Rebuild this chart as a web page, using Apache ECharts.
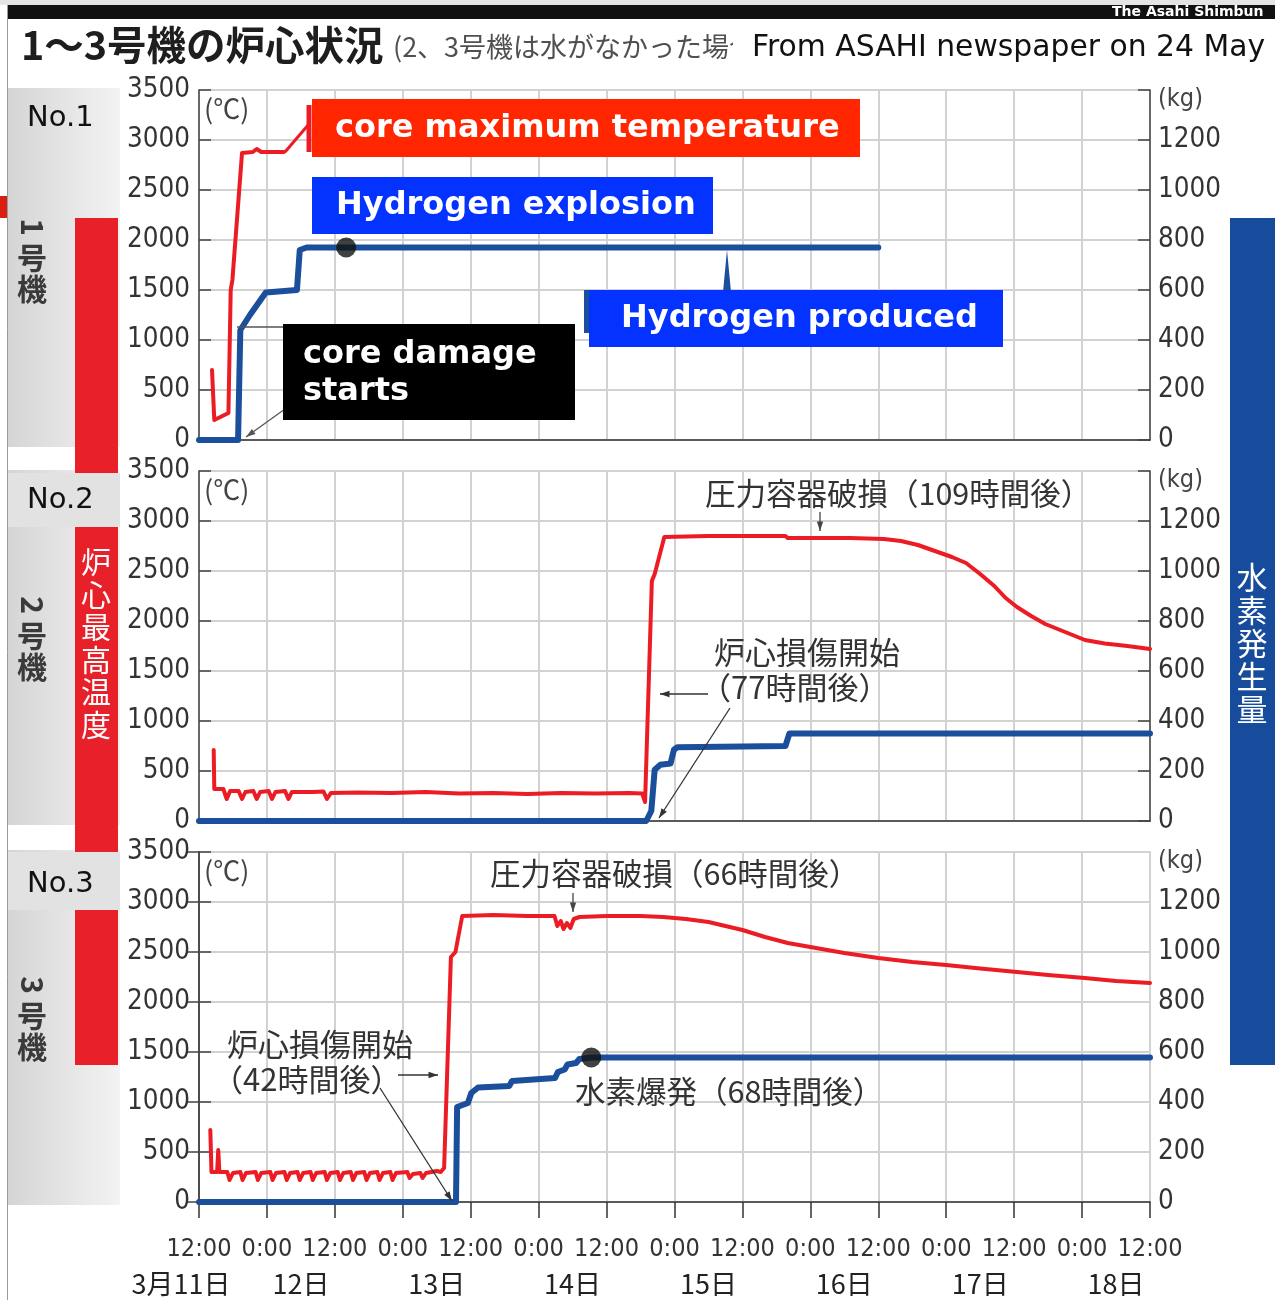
<!DOCTYPE html>
<html>
<head>
<meta charset="utf-8">
<script src="https://cdn.jsdelivr.net/npm/echarts@6/dist/echarts.min.js"></script>
<style>
html,body{margin:0;padding:0;background:#fff;}
#chart{width:1275px;height:1300px;}
</style>
</head>
<body>
<div id="chart"></div>
<script>
// x values are hours counted from 11 March 12:00
const timeTickLabels = ['12:00','0:00','12:00','0:00','12:00','0:00','12:00','0:00','12:00','0:00','12:00','0:00','12:00','0:00','12:00'];
const dayLabels = ['3月11日','12日','13日','14日','15日','16日','17日','18日'];
const dayLabelHours = [0, 18, 42, 66, 90, 114, 138, 162];

// Unit 1: core maximum temperature (°C) and hydrogen produced (kg)
const unit1Temp = [[2.3,700],[2.7,200],[5.2,270],[5.6,1500],[5.9,1600],[6.2,1620],[7.6,2870],[9.5,2880],[10.2,2910],[11,2880],[15.0,2880]];
const unit1H2 = [[0,0],[6.9,0],[7.3,440],[9.0,500],[11.8,590],[17.3,600],[17.8,760],[19,770],[120,770]];
const unit1Explosion = [[26,770]];

// Unit 2
const unit2Temp = [[2.6,710],[2.7,320],[4.3,320],[4.9,220],[5.5,300],[7.0,300],[7.6,220],[8.2,290],[9.6,300],[10.2,220],[10.8,290],[12.3,300],[12.9,220],[13.5,290],[15.2,300],[15.8,220],[16.4,290],[20,290],[22.0,295],[22.6,220],[23.3,280],[28,285],[34,280],[40,290],[46,275],[52,280],[58,270],[64,280],[70,275],[76,280],[78.3,275],[78.8,190],[80.0,2400],[80.5,2470],[82.2,2840],[90,2850],[103.6,2850],[104,2830],[115,2830],[121,2820],[124,2800],[127,2760],[130,2700],[133,2640],[135.5,2580],[138,2470],[140.5,2350],[142.5,2230],[144.5,2140],[147,2050],[149.5,1970],[153,1890],[156.5,1810],[160,1775],[164,1750],[168,1720]];
const unit2H2 = [[0,0],[79.0,0],[79.9,40],[80.5,205],[81.5,225],[83.3,230],[83.9,285],[84.5,295],[103.6,300],[104.3,350],[168,350]];

// Unit 3
const unit3Temp = [[2.0,720],[2.2,300],[3.2,300],[3.4,520],[3.6,300],[5.0,300],[5.4,220],[6.0,290],[7.3,300],[7.7,220],[8.3,290],[10.0,300],[10.4,220],[11.0,290],[12.6,300],[13.0,220],[13.6,290],[15.1,300],[15.5,220],[16.1,290],[17.4,300],[17.8,220],[18.4,290],[19.7,300],[20.1,220],[20.7,290],[22.2,300],[22.6,220],[23.2,290],[24.5,300],[24.9,220],[25.5,290],[26.8,300],[27.2,220],[27.8,290],[29.2,300],[29.6,220],[30.2,290],[31.5,300],[31.9,220],[32.5,290],[33.8,300],[34.2,220],[34.8,290],[36.8,300],[37.2,240],[37.8,280],[39.1,290],[39.5,240],[40.1,290],[42.0,310],[42.7,300],[43.3,340],[44.5,2450],[45.3,2500],[46.5,2860],[52,2870],[58,2860],[62.8,2860],[63.3,2760],[63.9,2810],[64.4,2730],[65.0,2790],[65.6,2740],[66.2,2830],[67.2,2850],[72,2860],[78,2860],[82,2850],[86,2830],[90,2800],[93,2760],[96,2720],[100,2650],[104,2590],[108,2550],[114,2490],[120,2440],[126,2400],[132,2370],[138,2335],[144.5,2300],[150,2270],[156.5,2240],[162,2210],[168,2190]];
const unit3H2 = [[0,0],[45.4,0],[45.6,380],[47.5,396],[48.1,436],[49.3,458],[54.8,464],[55.3,484],[62.9,496],[63.4,520],[64.6,530],[65.1,550],[66.6,556],[67.2,572],[69.3,578],[168,578]];
const unit3Explosion = [[69.3,578]];

// ---- pick the narrowest available face for the numeric axis labels ----
function measure(font, s) {
  const ctx = document.createElement('canvas').getContext('2d');
  ctx.font = '10px serif';
  ctx.font = font;
  if (ctx.font === '10px serif') return null;
  return ctx.measureText(s).width;
}
const probe = '12:00 3500 1200';
let NUM = {family: "'Liberation Sans', sans-serif", style: ''};
const narrowW = measure("40px 'Liberation Sans Narrow', monospace", probe);
const monoW = measure('40px monospace', probe);
const condW = measure("condensed 40px 'DejaVu Sans'", probe);
const plainW = measure("40px 'DejaVu Sans'", probe);
if (narrowW !== null && monoW !== null && Math.abs(narrowW - monoW) > 0.5) {
  NUM = {family: "'Liberation Sans Narrow'", style: ''};
} else if (condW !== null && plainW !== null && condW < 0.95 * plainW) {
  NUM = {family: "'DejaVu Sans'", style: 'condensed'};
}
function sizeFor(text, targetW) {
  const w = measure((NUM.style ? NUM.style + ' ' : '') + '100px ' + NUM.family, text);
  return w ? 100 * targetW / w : 30;
}
const YLABEL_SIZE = Math.min(36, sizeFor('3500', 63));
const XLABEL_SIZE = Math.min(34, sizeFor('12:00', 65));
const KG_SIZE = Math.min(30, sizeFor('(kg)', 45));

const JP = "'Noto Sans CJK JP',sans-serif";
const VERDANA = "'DejaVu Sans',sans-serif";
const RED = '#ec1c24';
const BLUE = '#1b4f9c';
const GRID_LINE = '#d2d2d2';
const AXIS = '#444';

const panelTops = [90, 471, 852];
const PANEL_H = 350;

const chart = echarts.init(document.getElementById('chart'), null, {renderer: 'canvas'});

const numText = (size, color) => ({fontFamily: NUM.family, fontStyle: NUM.style || 'normal', fontSize: size, color});

const grids = panelTops.map(t => ({
  left: 199, right: 125, top: t, height: PANEL_H,
  show: true, borderColor: '#c4c4c4', borderWidth: 1.5,
  outerBoundsMode: 'none', containLabel: false
}));

function timeAxis(gridIndex, withLabels) {
  return {
    type: 'value', gridIndex, min: 0, max: 168, interval: 12,
    axisLine: {show: true, onZero: false, lineStyle: {color: '#333', width: 1.5}},
    axisTick: {show: withLabels, length: 16, lineStyle: {color: '#333', width: 1.5}},
    axisLabel: Object.assign({
      show: withLabels, margin: 35, showMinLabel: true, showMaxLabel: true,
      formatter: v => timeTickLabels[Math.round(v / 12)]
    }, numText(XLABEL_SIZE, '#333')),
    splitLine: {show: true, lineStyle: {color: GRID_LINE, width: 2}}
  };
}

const xAxes = [timeAxis(0, false), timeAxis(1, false), timeAxis(2, true), {
  type: 'value', gridIndex: 2, min: 0, max: 168, position: 'bottom',
  axisLine: {show: false}, axisTick: {show: false}, splitLine: {show: false},
  axisLabel: {
    show: true, margin: 68, customValues: dayLabelHours,
    formatter: v => {
      const i = dayLabelHours.indexOf(v);
      return i === 0 ? '{first|' + dayLabels[i] + '}' : '{d|' + dayLabels[i] + '}';
    },
    rich: {
      first: {fontFamily: JP, fontSize: 27, color: '#222', padding: [0, 36, 0, 0]},
      d: {fontFamily: JP, fontSize: 27, color: '#222'}
    }
  }
}];

const yAxes = [];
[0, 1, 2].forEach(g => {
  yAxes.push({
    type: 'value', gridIndex: g, position: 'left', min: 0, max: 3500, interval: 500,
    axisLine: {show: true, lineStyle: {color: AXIS, width: 1.5}},
    axisTick: {show: true, inside: true, length: 12, lineStyle: {color: AXIS, width: 1.5}},
    axisLabel: Object.assign({margin: 9, showMinLabel: true, showMaxLabel: true, formatter: v => String(v)},
      numText(YLABEL_SIZE, '#333')),
    splitLine: {show: true, lineStyle: {color: GRID_LINE, width: 2}}
  });
  yAxes.push({
    type: 'value', gridIndex: g, position: 'right', min: 0, max: 1400, interval: 200,
    axisLine: {show: true, lineStyle: {color: AXIS, width: 1.5}},
    axisTick: {show: true, inside: true, length: 12, lineStyle: {color: AXIS, width: 1.5}},
    axisLabel: Object.assign({
      margin: 8, showMinLabel: true, showMaxLabel: true,
      formatter: v => v === 1400 ? '{u|(kg)}' : String(v),
      rich: {u: Object.assign({padding: [18, 0, 0, 0]}, numText(KG_SIZE, '#444'))}
    }, numText(YLABEL_SIZE, '#333')),
    splitLine: {show: false}
  });
});

function tempSeries(g, data) {
  return {type: 'line', xAxisIndex: g, yAxisIndex: g * 2, data, symbol: 'none', z: 3,
    lineStyle: {color: RED, width: 4, join: 'round', cap: 'round'}};
}
function h2Series(g, data) {
  return {type: 'line', xAxisIndex: g, yAxisIndex: g * 2 + 1, data, symbol: 'none', z: 4,
    lineStyle: {color: BLUE, width: 6, join: 'round', cap: 'round'}};
}
function explosionSeries(g, data) {
  return {type: 'scatter', xAxisIndex: g, yAxisIndex: g * 2 + 1, data, symbolSize: 20, z: 5,
    itemStyle: {color: '#111'}};
}

// ---- drawing helpers for labels and decorations ----
function txt(x, y, text, o, z) {
  return {type: 'text', x, y, z: z || 60, style: Object.assign({
    text, fill: '#222', fontSize: 28, fontFamily: JP, align: 'left', verticalAlign: 'middle'
  }, o || {})};
}
function box(x, y, w, h, fill, z) {
  return {type: 'rect', z: z || 50, shape: {x, y, width: w, height: h}, style: {fill}};
}
function seg(x1, y1, x2, y2, stroke, w, z) {
  return {type: 'line', z: z || 55, shape: {x1, y1, x2, y2}, style: {stroke, lineWidth: w}};
}
function arrow(x1, y1, x2, y2, color) {
  const a = Math.atan2(y2 - y1, x2 - x1), L = 10, s = 0.32;
  return [seg(x1, y1, x2, y2, color, 1.3),
    {type: 'polygon', z: 55, shape: {points: [[x2, y2],
      [x2 - L * Math.cos(a - s), y2 - L * Math.sin(a - s)],
      [x2 - L * Math.cos(a + s), y2 - L * Math.sin(a + s)]]}, style: {fill: color}}];
}
function unitTag(cy, digit) {
  const st = {fontFamily: JP, fontWeight: 'bold', fontSize: 30, fill: '#3a3a3a', align: 'center', verticalAlign: 'middle'};
  return [
    {type: 'text', x: 32, y: cy, rotation: -Math.PI / 2, z: 60, style: Object.assign({text: digit}, st)},
    {type: 'text', x: 32, y: cy + 31, z: 60, style: Object.assign({text: '号'}, st)},
    {type: 'text', x: 32, y: cy + 62, z: 60, style: Object.assign({text: '機'}, st)}
  ];
}
const sideGrad = {type: 'linear', x: 0, y: 0, x2: 1, y2: 0,
  colorStops: [{offset: 0, color: '#d5d5d5'}, {offset: 1, color: '#f3f3f3'}]};

const graphics = [];
// page frame and header
graphics.push(box(0, 0, 1275, 5, '#e4e4e4', 1));
graphics.push(box(8, 5, 1267, 14, '#111', 2));
graphics.push(txt(1112, 12, 'The Asahi Shimbun', {fill: '#fff', fontFamily: VERDANA, fontWeight: 'bold', fontSize: 14}));
graphics.push(box(0, 196, 8, 22, '#d92010', 2));
graphics.push(seg(7.5, 5, 7.5, 1300, '#9a9a9a', 1, 2));
graphics.push(txt(21, 45, '1～3号機の炉心状況', {fontWeight: 'bold', fontSize: 39.5, fill: '#1e1e1e'}, 45));
graphics.push(txt(393, 47, '(2、3号機は水がなかった場合', {fontSize: 27, fill: '#505050'}, 40));
graphics.push(box(733, 19, 542, 54, '#fff', 58));
graphics.push(txt(752, 48, 'From ASAHI newspaper on 24 May', {fontFamily: VERDANA, fontSize: 29.8, fill: '#111'}));

// left column: unit blocks, red side bar
graphics.push(box(8, 88, 112, 359, sideGrad, 5));
graphics.push(box(8, 470, 112, 355, sideGrad, 5));
graphics.push(box(8, 850, 112, 355, sideGrad, 5));
graphics.push(box(75, 218, 43, 847, '#e8202a', 6));
graphics.push(txt(96, 643, '炉\n心\n最\n高\n温\n度', {fill: '#fff', fontSize: 30, lineHeight: 32.5, align: 'center'}));
graphics.push(box(8, 473, 112, 54, '#e2e2e2', 7));
graphics.push(box(8, 852, 112, 58, '#e2e2e2', 7));
graphics.push(txt(27, 118, 'No.1', {fontFamily: VERDANA, fontSize: 29, fill: '#111'}));
graphics.push(txt(27, 500, 'No.2', {fontFamily: VERDANA, fontSize: 29, fill: '#111'}));
graphics.push(txt(27, 884, 'No.3', {fontFamily: VERDANA, fontSize: 29, fill: '#111'}));
graphics.push(...unitTag(227, '1'), ...unitTag(605, '2'), ...unitTag(985, '3'));

// right column: blue side bar
graphics.push(box(1230, 218, 45, 847, '#164c9b', 6));
graphics.push(txt(1252, 643, '水\n素\n発\n生\n量', {fill: '#fff', fontSize: 31, lineHeight: 33, align: 'center'}));

// unit symbol (°C) inside each panel
panelTops.forEach(t => graphics.push(txt(204, t + 19, '(℃)', {fontSize: 27, fill: '#444'})));

// unit 1 callouts
graphics.push(seg(285, 152, 309, 124, RED, 3));
graphics.push(seg(309, 105, 309, 152, RED, 5));
graphics.push(box(312, 99, 548, 58, '#ff2600', 56));
graphics.push(txt(335, 129, 'core maximum temperature', {fontFamily: VERDANA, fontWeight: 'bold', fontSize: 32, fill: '#fff'}));
graphics.push(box(312, 177, 401, 57, '#0433ff', 56));
graphics.push(txt(336, 206, 'Hydrogen explosion', {fontFamily: VERDANA, fontWeight: 'bold', fontSize: 32, fill: '#fff'}));
graphics.push({type: 'polygon', z: 55, shape: {points: [[727, 250], [723, 292], [731, 292]]}, style: {fill: BLUE}});
graphics.push(box(584, 290, 6, 43, BLUE, 55));
graphics.push(box(589, 290, 414, 57, '#0433ff', 56));
graphics.push(txt(621, 319, 'Hydrogen produced', {fontFamily: VERDANA, fontWeight: 'bold', fontSize: 32, fill: '#fff'}));
graphics.push(seg(237, 327, 283, 327, '#555', 1.3));
graphics.push(...arrow(285, 409, 246, 437, '#555'));
graphics.push(box(283, 324, 292, 96, '#000', 56));
graphics.push(txt(303, 355, 'core damage', {fontFamily: VERDANA, fontWeight: 'bold', fontSize: 32, fill: '#fff'}));
graphics.push(txt(303, 392, 'starts', {fontFamily: VERDANA, fontWeight: 'bold', fontSize: 32, fill: '#fff'}));

// unit 2 notes
graphics.push(txt(705, 493, '圧力容器破損（109時間後）', {fontSize: 30.5, fill: '#333'}));
graphics.push(...arrow(820, 512, 820, 531, '#444'));
graphics.push(txt(714, 652, '炉心損傷開始', {fontSize: 31, fill: '#333'}));
graphics.push(txt(700, 687, '（77時間後）', {fontSize: 31, fill: '#333'}));
graphics.push(...arrow(708, 694, 660, 694, '#333'));
graphics.push(...arrow(730, 708, 659, 818, '#333'));

// unit 3 notes
graphics.push(txt(490, 873, '圧力容器破損（66時間後）', {fontSize: 30.5, fill: '#333'}));
graphics.push(...arrow(573, 893, 573, 912, '#444'));
graphics.push(txt(227, 1044, '炉心損傷開始', {fontSize: 31, fill: '#333'}));
graphics.push(txt(212, 1079, '（42時間後）', {fontSize: 31, fill: '#333'}));
graphics.push(...arrow(398, 1075, 438, 1075, '#333'));
graphics.push(...arrow(380, 1088, 452, 1201, '#333'));
graphics.push(txt(575, 1091, '水素爆発（68時間後）', {fontSize: 30.5, fill: '#333'}));

chart.setOption({
  animation: false,
  backgroundColor: '#fff',
  grid: grids,
  xAxis: xAxes,
  yAxis: yAxes,
  series: [
    tempSeries(0, unit1Temp), h2Series(0, unit1H2), explosionSeries(0, unit1Explosion),
    tempSeries(1, unit2Temp), h2Series(1, unit2H2),
    tempSeries(2, unit3Temp), h2Series(2, unit3H2), explosionSeries(2, unit3Explosion)
  ],
  graphic: {elements: graphics}
});
</script>
</body>
</html>
